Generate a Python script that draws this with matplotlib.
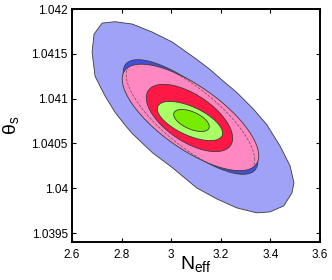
import numpy as np
import matplotlib
matplotlib.use("Agg")
import matplotlib.pyplot as plt

plt.rcParams['font.family'] = ['Liberation Sans', 'DejaVu Sans']

# ---- data ----
# outer (wide) constraint, traced boundary (N_eff, theta_s)
outer_x = [2.689, 2.7215, 2.774, 2.843, 2.924, 3.005, 3.102, 3.155, 3.211, 3.264,
           3.333, 3.385, 3.438, 3.479, 3.495, 3.487, 3.454, 3.398, 3.345, 3.264,
           3.183, 3.102, 3.005, 2.924, 2.843, 2.815, 2.774, 2.734, 2.693, 2.681]
outer_y = [1.041720, 1.041843, 1.041858, 1.041832, 1.041742, 1.041630, 1.041440,
           1.041328, 1.041193, 1.041070, 1.040879, 1.040711, 1.040476, 1.040252,
           1.040061, 1.039949, 1.039803, 1.039736, 1.039725, 1.039781, 1.039882,
           1.040005, 1.040229, 1.040397, 1.040610, 1.040700, 1.040846, 1.041025,
           1.041249, 1.041518]

# inner Gaussian-like contours: centre, half-extent in x, half-extent in y, correlation
contour_names = ['blue', 'pink', 'dashed', 'red', 'lightgreen', 'green']
centre_x = [3.0777, 3.0777, 3.0777, 3.0737, 3.0757, 3.0818]
centre_y = [1.040795, 1.040790, 1.040790, 1.040784, 1.040750, 1.040756]
half_x = [0.2713, 0.2753, 0.2591, 0.1741, 0.1316, 0.0717]
half_y = [0.000639, 0.000594, 0.000616, 0.0003754, 0.0002185, 0.000123]
corr = [-0.78, -0.72, -0.77, -0.60, -0.62, -0.55]

x_ticks = [2.6, 2.8, 3.0, 3.2, 3.4, 3.6]
x_ticklabels = ['2.6', '2.8', '3', '3.2', '3.4', '3.6']
y_ticks = [1.0395, 1.04, 1.0405, 1.041, 1.0415, 1.042]
y_ticklabels = ['1.0395', '1.04', '1.0405', '1.041', '1.0415', '1.042']

fill_colors = {'blue': '#3f4ff0', 'pink': '#ff88c2', 'red': '#ff1846',
               'lightgreen': '#a8ff66', 'green': '#77ec00'}
outer_color = '#a0a2f8'
edge = '#3a3a3a'

fig = plt.figure(figsize=(3.32, 2.80), dpi=100)
ax = fig.add_axes([72 / 332, 1 - 242 / 280, 248 / 332, 233 / 280])

ax.fill(outer_x, outer_y, facecolor=outer_color, edgecolor=edge, linewidth=0.6, zorder=1)

t = np.linspace(0, 2 * np.pi, 400)
for i, name in enumerate(contour_names):
    r = corr[i]
    ex = centre_x[i] + half_x[i] * np.cos(t)
    ey = centre_y[i] + half_y[i] * (r * np.cos(t) + np.sqrt(1 - r * r) * np.sin(t))
    if name == 'dashed':
        ax.plot(ex, ey, color='#555555', linewidth=0.5, linestyle=(0, (4, 2)), zorder=2 + i)
    else:
        ax.fill(ex, ey, facecolor=fill_colors[name], edgecolor=edge, linewidth=0.6, zorder=2 + i)

ax.set_xlim(2.6, 3.6)
ax.set_ylim(1.0394, 1.042)
ax.set_xticks(x_ticks)
ax.set_xticklabels(x_ticklabels)
ax.set_yticks(y_ticks)
ax.set_yticklabels(y_ticklabels)
ax.tick_params(direction='in', length=3, width=0.8, top=True, right=True,
               labelsize=8.5, colors='black')
ax.tick_params(axis='x', pad=5)
ax.tick_params(axis='y', pad=3)
for s in ax.spines.values():
    s.set_linewidth(1.4)
    s.set_color('black')

ax.set_xlabel(r'$\mathregular{N_{eff}}$', fontsize=14)
ax.set_ylabel(r'$\mathregular{θ_s}$', fontsize=14)
ax.xaxis.set_label_coords(0.5, -0.05)
ax.yaxis.set_label_coords(-0.205, 0.5)

fig.savefig('out.png', dpi=100)
